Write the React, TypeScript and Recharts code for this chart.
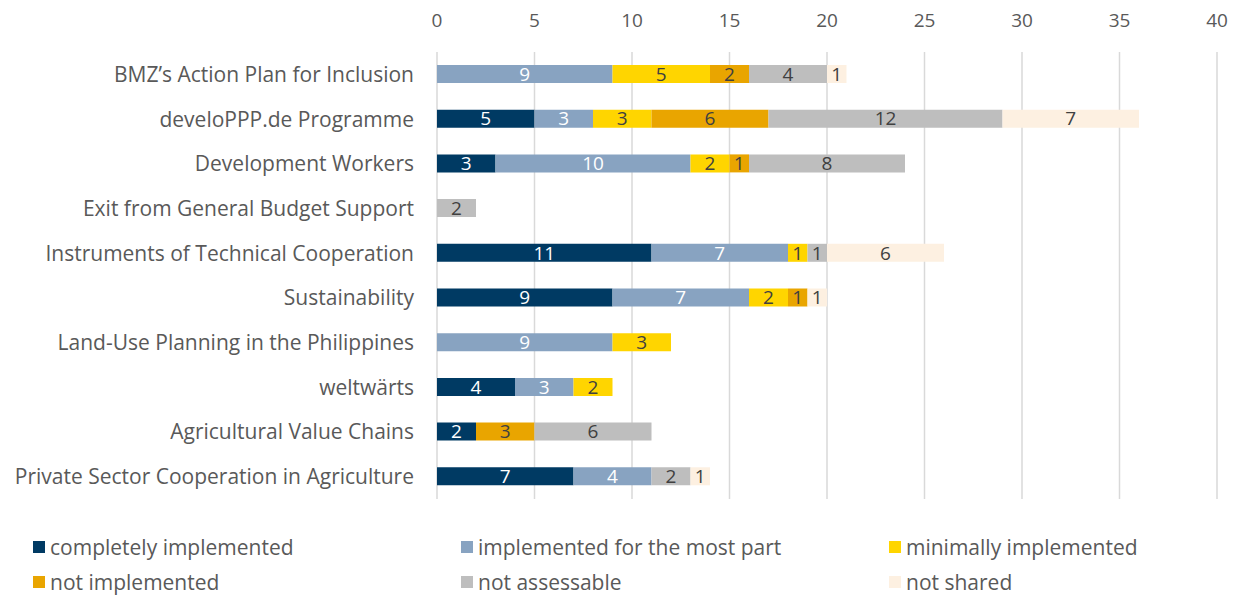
import React from "react"
import {
  Bar,
  BarChart,
  CartesianGrid,
  LabelList,
  Legend,
  XAxis,
  YAxis,
} from "recharts"

const categories = [
  "BMZ’s Action Plan for Inclusion",
  "develoPPP.de Programme",
  "Development Workers",
  "Exit from General Budget Support",
  "Instruments of Technical Cooperation",
  "Sustainability",
  "Land-Use Planning in the Philippines",
  "weltwärts",
  "Agricultural Value Chains",
  "Private Sector Cooperation in Agriculture",
]

const completely = [0, 5, 3, 0, 11, 9, 0, 4, 2, 7]
const mostPart = [9, 3, 10, 0, 7, 7, 9, 3, 0, 4]
const minimally = [5, 3, 2, 0, 1, 2, 3, 2, 0, 0]
const notImplemented = [2, 6, 1, 0, 0, 1, 0, 0, 3, 0]
const notAssessable = [4, 12, 8, 2, 1, 0, 0, 0, 6, 2]
const notShared = [1, 7, 0, 0, 6, 1, 0, 0, 0, 1]

const xTicks = [0, 5, 10, 15, 20, 25, 30, 35, 40]

const series = [
  { key: "completely", name: "completely implemented", color: "#003a63", label: "#ffffff" },
  { key: "mostPart", name: "implemented for the most part", color: "#88a3c1", label: "#ffffff" },
  { key: "minimally", name: "minimally implemented", color: "#ffd500", label: "#404040" },
  { key: "notImplemented", name: "not implemented", color: "#e9a500", label: "#404040" },
  { key: "notAssessable", name: "not assessable", color: "#bebebe", label: "#404040" },
  { key: "notShared", name: "not shared", color: "#fdf0e1", label: "#404040" },
]

const data = categories.map((name, i) => ({
  name,
  completely: completely[i],
  mostPart: mostPart[i],
  minimally: minimally[i],
  notImplemented: notImplemented[i],
  notAssessable: notAssessable[i],
  notShared: notShared[i],
}))

const font = "'Open Sans', sans-serif"

function LegendBox() {
  return (
    <div
      style={{
        display: "grid",
        gridTemplateColumns: "428px 428px 360px",
        rowGap: 10,
        paddingLeft: 25,
        fontFamily: font,
        fontSize: 21,
        color: "#595959",
      }}
    >
      {series.map((s) => (
        <div key={s.key} style={{ display: "flex", alignItems: "center", height: 25 }}>
          <span
            style={{
              width: 12,
              height: 12,
              background: s.color,
              display: "inline-block",
              marginRight: 5,
            }}
          />
          {s.name}
        </div>
      ))}
    </div>
  )
}

export default function App() {
  return (
    <BarChart
      width={1233}
      height={589}
      data={data}
      layout="vertical"
      barSize={18}
      margin={{ top: 0, right: 24, left: 0, bottom: 38 }}
      style={{ fontFamily: font }}
    >
      <CartesianGrid horizontal={false} stroke="#d9d9d9" strokeWidth={1.5} />
      <XAxis
        type="number"
        orientation="top"
        domain={[0, 40]}
        ticks={xTicks}
        height={44}
        axisLine={false}
        tickLine={false}
        tickMargin={19}
        tick={{ fill: "#595959", fontSize: 19 }}
      />
      <YAxis
        type="category"
        dataKey="name"
        width={429}
        axisLine={false}
        tickLine={false}
        tickMargin={17}
        tick={{ fill: "#595959", fontSize: 21 }}
      />
      <Legend
        verticalAlign="bottom"
        content={() => <LegendBox />}
        wrapperStyle={{ top: 526, left: 0, width: 1233, height: 60 }}
      />
      {series.map((s) => (
        <Bar
          key={s.key}
          dataKey={s.key}
          name={s.name}
          stackId="a"
          fill={s.color}
          isAnimationActive={false}
        >
          <LabelList
            dataKey={s.key}
            position="center"
            fill={s.label}
            fontSize={19}
            formatter={(v: any) => (v ? v : "")}
          />
        </Bar>
      ))}
    </BarChart>
  )
}
